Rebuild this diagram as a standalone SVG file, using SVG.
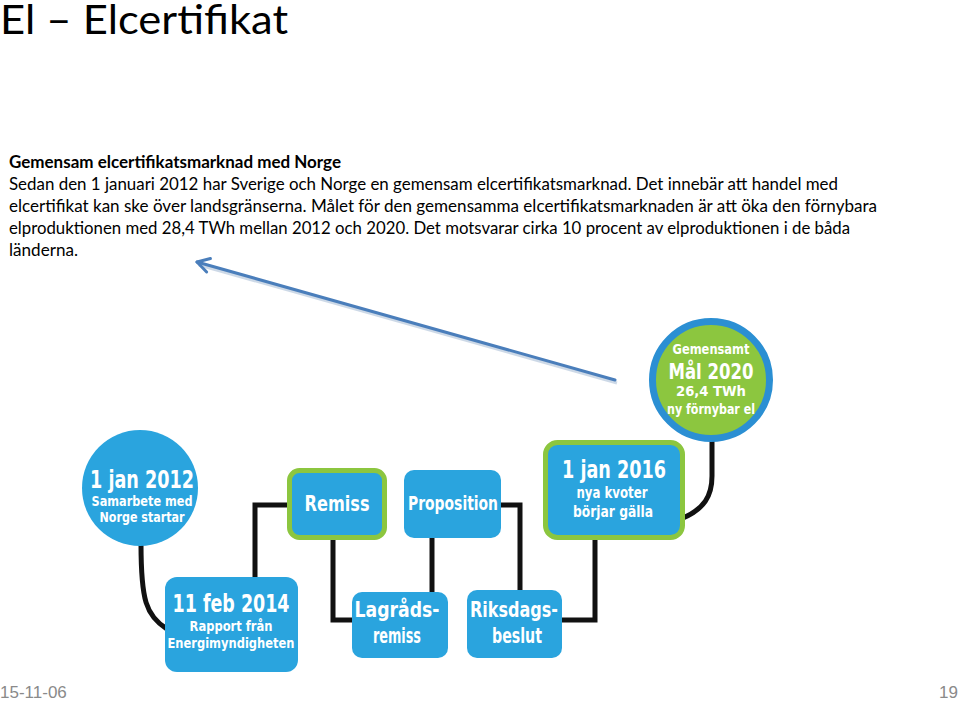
<svg xmlns="http://www.w3.org/2000/svg" width="960" height="701" viewBox="0 0 960 701">
<defs>
<style>
.title{font-family:Lato,"Open Sans","Liberation Sans",sans-serif;font-size:41px;fill:#000}
.body{font-family:Lato,"Open Sans","Liberation Sans",sans-serif;font-size:16.5px;fill:#000}
.bold{font-weight:bold}
.foot{font-family:"Liberation Sans",Arial,sans-serif;font-size:17px;fill:#8a8a8a}
.node{fill:#2aa4de}
.ring{fill:#2aa4de;stroke:#8cc63f;stroke-width:5}
.lbl{font-family:"DejaVu Sans Condensed","Liberation Sans Narrow","Roboto",sans-serif;font-stretch:condensed;font-weight:bold;fill:#fff;text-anchor:middle}
.conn{fill:none;stroke:#111;stroke-width:5;stroke-linejoin:miter}
.arrow{fill:none;stroke:#4a7ebb;stroke-width:3;stroke-linecap:round}
.shadow{fill:none;stroke:#9bb3cf;stroke-width:3;opacity:0.5}
</style>
<marker id="ah" markerUnits="userSpaceOnUse" markerWidth="20" markerHeight="20" refX="18" refY="8" orient="auto" viewBox="0 0 20 16">
<path d="M6,1 L18,8 L6,15" fill="none" stroke="#4a7ebb" stroke-width="3" stroke-linecap="round" stroke-linejoin="round"/>
</marker>
</defs>
<rect width="960" height="701" fill="#fff"/>

<text class="title" x="0" y="34" textLength="288" lengthAdjust="spacingAndGlyphs">El – Elcertifikat</text>

<g id="bodytext">
<text class="body bold" x="9" y="168" textLength="332" lengthAdjust="spacingAndGlyphs">Gemensam elcertifikatsmarknad med Norge</text>
<text class="body" x="9" y="190" textLength="829" lengthAdjust="spacingAndGlyphs">Sedan den 1 januari 2012 har Sverige och Norge en gemensam elcertifikatsmarknad. Det innebär att handel med</text>
<text class="body" x="9" y="212" textLength="868" lengthAdjust="spacingAndGlyphs">elcertifikat kan ske över landsgränserna. Målet för den gemensamma elcertifikatsmarknaden är att öka den förnybara</text>
<text class="body" x="9" y="234" textLength="841" lengthAdjust="spacingAndGlyphs">elproduktionen med 28,4 TWh mellan 2012 och 2020. Det motsvarar cirka 10 procent av elproduktionen i de båda</text>
<text class="body" x="9" y="256" textLength="69" lengthAdjust="spacingAndGlyphs">länderna.</text>
</g>

<g id="connectors">
<path class="conn" d="M141,544 C141,600 146,616 167,629"/>
<path class="conn" d="M255,578 V505 H290"/>
<path class="conn" d="M333,538 V620 H353"/>
<path class="conn" d="M432,536 V593"/>
<path class="conn" d="M500,505 H520 V591"/>
<path class="conn" d="M561,620 H595 V538"/>
<path class="conn" d="M683,518 C704,509 712,496 712,476 V438"/>
<path class="shadow" d="M617,383 L199,265"/>
<path class="arrow" d="M615,380 L197,262" marker-end="url(#ah)"/>
</g>

<g id="n2012">
<circle class="node" cx="140" cy="488" r="58"/>
<text class="lbl" x="142" y="488" font-size="24" textLength="104" lengthAdjust="spacingAndGlyphs">1 jan 2012</text>
<text class="lbl" x="142" y="506" font-size="14" textLength="101" lengthAdjust="spacingAndGlyphs">Samarbete med</text>
<text class="lbl" x="142" y="522" font-size="14" textLength="85" lengthAdjust="spacingAndGlyphs">Norge startar</text>
</g>

<g id="n2014">
<rect class="node" x="165" y="577" width="133" height="95" rx="12"/>
<text class="lbl" x="231" y="612" font-size="24" textLength="117" lengthAdjust="spacingAndGlyphs">11 feb 2014</text>
<text class="lbl" x="231" y="631" font-size="14" textLength="83" lengthAdjust="spacingAndGlyphs">Rapport från</text>
<text class="lbl" x="231" y="648" font-size="14" textLength="127" lengthAdjust="spacingAndGlyphs">Energimyndigheten</text>
</g>

<g id="remiss">
<rect class="ring" x="289.5" y="470.5" width="95" height="67" rx="10"/>
<text class="lbl" x="337" y="511" font-size="21" textLength="65" lengthAdjust="spacingAndGlyphs">Remiss</text>
</g>

<g id="proposition">
<rect class="node" x="404" y="470" width="97" height="68" rx="10"/>
<text class="lbl" x="453" y="510" font-size="20" textLength="90" lengthAdjust="spacingAndGlyphs">Proposition</text>
</g>

<g id="lagrads">
<rect class="node" x="352" y="592" width="96" height="66" rx="10"/>
<text class="lbl" x="397" y="617" font-size="22" textLength="85" lengthAdjust="spacingAndGlyphs">Lagråds-</text>
<text class="lbl" x="397" y="643" font-size="22" textLength="48" lengthAdjust="spacingAndGlyphs">remiss</text>
</g>

<g id="riksdags">
<rect class="node" x="467" y="590" width="95" height="68" rx="10"/>
<text class="lbl" x="514" y="617" font-size="22" textLength="88" lengthAdjust="spacingAndGlyphs">Riksdags-</text>
<text class="lbl" x="517" y="643" font-size="22" textLength="50" lengthAdjust="spacingAndGlyphs">beslut</text>
</g>

<g id="n2016">
<rect class="ring" x="545.5" y="442.5" width="137" height="95" rx="12"/>
<text class="lbl" x="614" y="478" font-size="24" textLength="104" lengthAdjust="spacingAndGlyphs">1 jan 2016</text>
<text class="lbl" x="612" y="498" font-size="15" textLength="71" lengthAdjust="spacingAndGlyphs">nya kvoter</text>
<text class="lbl" x="613" y="517" font-size="15" textLength="80" lengthAdjust="spacingAndGlyphs">börjar gälla</text>
</g>

<g id="goal2020">
<circle cx="711" cy="380" r="58.5" fill="#8cc63f" stroke="#2b8fd3" stroke-width="7"/>
<text class="lbl" x="711" y="354" font-size="14" textLength="77" lengthAdjust="spacingAndGlyphs">Gemensamt</text>
<text class="lbl" x="711" y="379" font-size="21" textLength="85" lengthAdjust="spacingAndGlyphs">Mål 2020</text>
<text class="lbl" x="711" y="396" font-size="14" textLength="70" lengthAdjust="spacingAndGlyphs">26,4 TWh</text>
<text class="lbl" x="711" y="414" font-size="14" textLength="88" lengthAdjust="spacingAndGlyphs">ny förnybar el</text>
</g>

<text class="foot" x="0" y="698">15-11-06</text>
<text class="foot" x="958" y="698" text-anchor="end">19</text>
</svg>
